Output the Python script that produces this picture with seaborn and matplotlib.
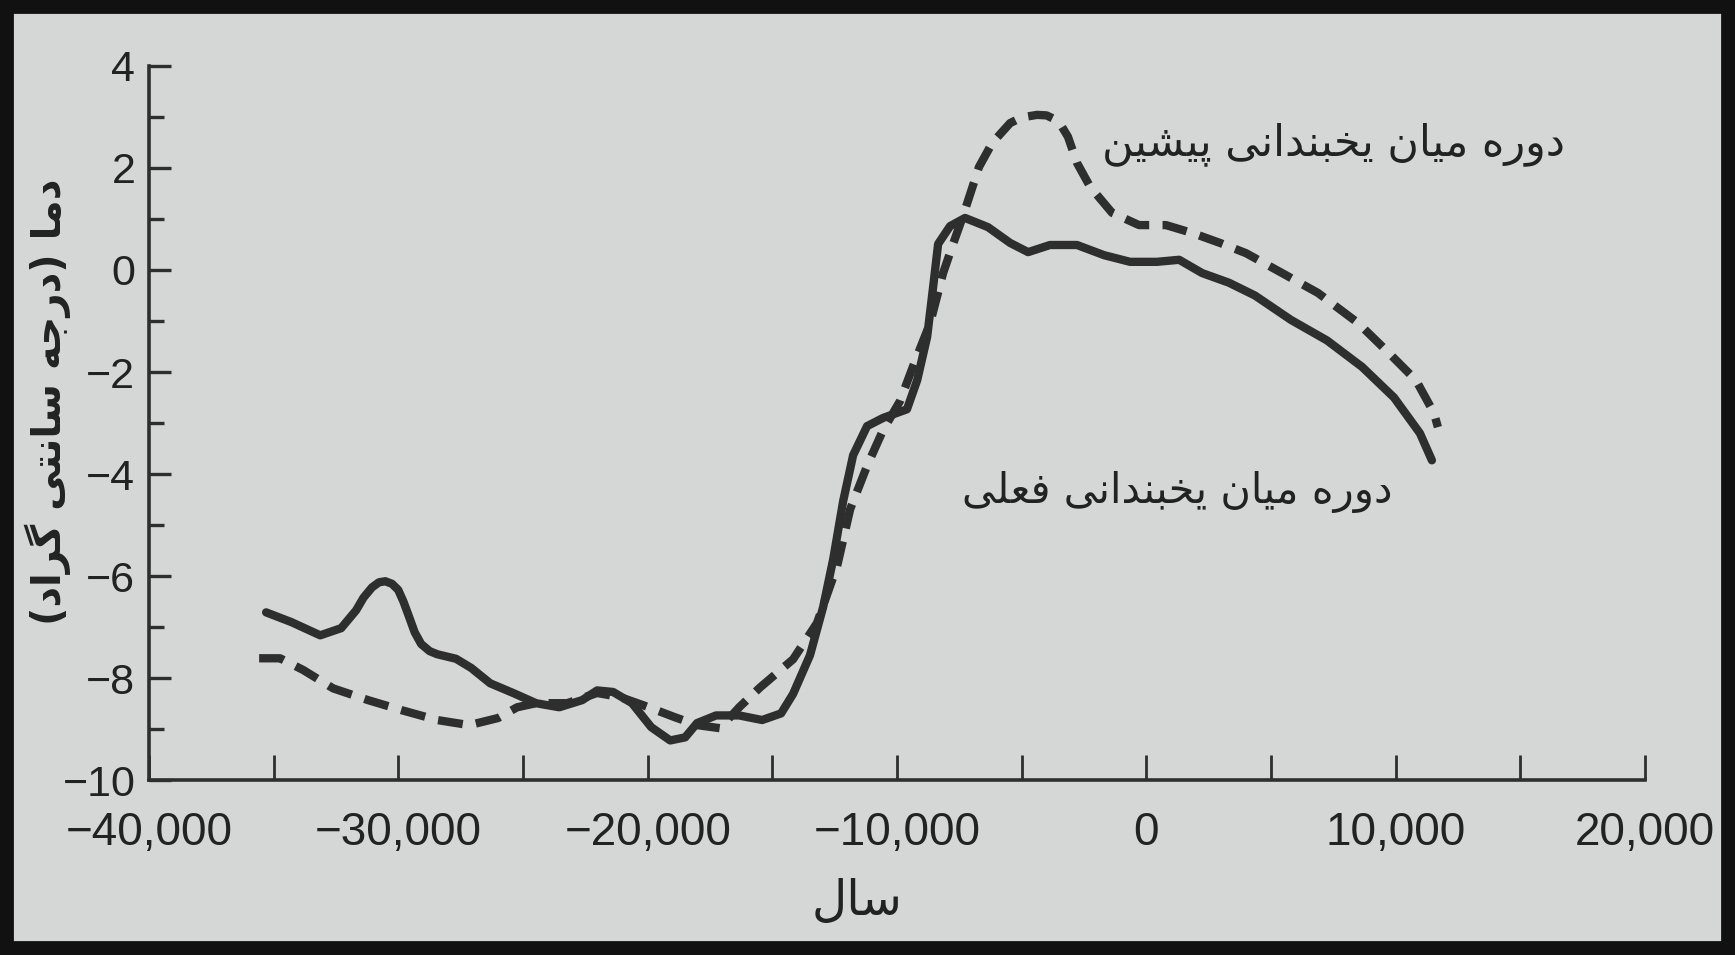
import numpy as np
import pandas as pd
import matplotlib
matplotlib.use("Agg")
import matplotlib.pyplot as plt
import seaborn as sns
from matplotlib.patches import Rectangle

# --- data ---
current_year = [-35310, -34300, -33140, -32300, -31700, -31400, -31060, -30780, -30530, -30260,
                -30010, -29800, -29610, -29350, -29090, -28750, -28450, -27690, -27080, -26320,
                -25400, -24480, -23550, -22630, -22030, -21390, -20630, -19860, -19100, -18500,
                -18020, -17260, -16330, -15410, -14650, -14170, -13490, -12960, -12560, -12160,
                -11760, -11200, -10560, -9600, -9190, -8790, -8550, -8350, -7870, -7270,
                -6350, -5460, -4740, -3860, -2780, -1690, -650, 430, 1320, 2240,
                3320, 4360, 5810, 7250, 8660, 9940, 10980, 11460]
current_temp = [-6.71, -6.90, -7.16, -7.02, -6.67, -6.42, -6.22, -6.12, -6.10, -6.15,
                -6.27, -6.50, -6.75, -7.10, -7.33, -7.47, -7.53, -7.62, -7.80, -8.10,
                -8.29, -8.49, -8.57, -8.43, -8.24, -8.27, -8.49, -8.96, -9.22, -9.16,
                -8.88, -8.73, -8.73, -8.82, -8.69, -8.31, -7.55, -6.60, -5.67, -4.53,
                -3.63, -3.06, -2.90, -2.73, -2.16, -1.31, -0.33, 0.51, 0.86, 1.02,
                0.84, 0.53, 0.35, 0.49, 0.49, 0.29, 0.16, 0.16, 0.20, -0.06,
                -0.25, -0.50, -0.98, -1.38, -1.90, -2.50, -3.20, -3.73]

previous_year = [-35590, -34750, -33820, -32620, -31220, -29850, -28450, -27160, -26000, -25240,
                 -24480, -23230, -22030, -21110, -20180, -18940, -18020, -17100, -16330, -15490,
                 -14170, -13210, -12400, -11880, -11200, -10560, -9880, -9350, -8670, -8150,
                 -7750, -7350, -6710, -6180, -5460, -5000, -4380, -4000, -3700, -3400,
                 -3140, -2780, -2250, -1370, -290, 790, 1880, 2960, 4000, 5450,
                 6890, 8500, 9740, 10820, 11540, 11700]
previous_temp = [-7.61, -7.61, -7.84, -8.20, -8.43, -8.63, -8.82, -8.92, -8.78, -8.57,
                 -8.49, -8.49, -8.29, -8.37, -8.53, -8.76, -8.92, -8.98, -8.57, -8.18,
                 -7.63, -6.92, -5.80, -4.69, -3.84, -3.14, -2.57, -1.88, -1.04, -0.06,
                 0.51, 1.06, 2.02, 2.49, 2.88, 2.99, 3.04, 3.03, 2.96, 2.82,
                 2.61, 2.10, 1.63, 1.12, 0.88, 0.88, 0.72, 0.53, 0.33, -0.06,
                 -0.45, -1.04, -1.63, -2.16, -2.80, -3.08]

x_ticks = [-40000, -30000, -20000, -10000, 0, 10000, 20000]
x_ticklabels = ["−40,000", "−30,000", "−20,000", "−10,000", "0", "10,000", "20,000"]
x_minor = [-35000, -25000, -15000, -5000, 5000, 15000]
y_ticks = [-10, -8, -6, -4, -2, 0, 2, 4]
y_ticklabels = ["−10", "−8", "−6", "−4", "−2", "0", "2", "4"]
y_minor = [-9, -7, -5, -3, -1, 1, 3]

x_title = "سال"
y_title = "دما (درجه سانتی گراد)"
label_previous = "دوره میان یخبندانی پیشین"
label_current = "دوره میان یخبندانی فعلی"

PAPER = "#d5d7d6"
INK = "#2e2e2e"

# matplotlib has no arabic shaping: pick presentation forms by hand and reverse
FORMS = {
    "ا": "\ufe8d\ufe8e", "د": "\ufea9\ufeaa", "ر": "\ufead\ufeae", "و": "\ufeed\ufeee",
    "ب": "\ufe8f\ufe90\ufe91\ufe92", "پ": "\ufb56\ufb57\ufb58\ufb59", "ت": "\ufe95\ufe96\ufe97\ufe98",
    "ج": "\ufe9d\ufe9e\ufe9f\ufea0", "خ": "\ufea5\ufea6\ufea7\ufea8", "س": "\ufeb1\ufeb2\ufeb3\ufeb4",
    "ش": "\ufeb5\ufeb6\ufeb7\ufeb8", "ع": "\ufec9\ufeca\ufecb\ufecc", "ف": "\ufed1\ufed2\ufed3\ufed4",
    "گ": "\ufb92\ufb93\ufb94\ufb95", "ل": "\ufedd\ufede\ufedf\ufee0", "م": "\ufee1\ufee2\ufee3\ufee4",
    "ن": "\ufee5\ufee6\ufee7\ufee8", "ه": "\ufee9\ufeea\ufeeb\ufeec", "ی": "\ufbfc\ufbfd\ufbfe\ufbff",
}


def shape_fa(text):
    out = []
    for i, ch in enumerate(text):
        if ch not in FORMS:
            out.append(ch)
            continue
        prev = text[i - 1] if i > 0 else ""
        nxt = text[i + 1] if i + 1 < len(text) else ""
        join_prev = prev in FORMS and len(FORMS[prev]) == 4
        join_next = len(FORMS[ch]) == 4 and nxt in FORMS
        f = FORMS[ch]
        if join_prev and join_next:
            out.append(f[3])
        elif join_prev:
            out.append(f[1])
        elif join_next:
            out.append(f[2])
        else:
            out.append(f[0])
    vis = "".join(reversed(out))
    return vis.translate(str.maketrans("()", ")("))


sns.set_theme(style="ticks")
plt.rcParams["font.family"] = ["Liberation Sans", "DejaVu Sans"]

df = pd.concat([
    pd.DataFrame({"year": current_year, "temp": current_temp, "period": "current"}),
    pd.DataFrame({"year": previous_year, "temp": previous_temp, "period": "previous"}),
])

fig = plt.figure(figsize=(17.35, 9.55), dpi=100, facecolor=PAPER)
ax = fig.add_axes([0.086, 0.183, 0.862, 0.748])
ax.set_facecolor(PAPER)

sns.lineplot(
    data=df, x="year", y="temp", style="period",
    style_order=["current", "previous"],
    dashes={"current": "", "previous": (3.0, 1.6)},
    color=INK, linewidth=6, estimator=None, legend=False, ax=ax,
)
for line in ax.get_lines():
    line.set_solid_joinstyle("round")
    line.set_dash_joinstyle("round")

ax.set_xlim(-40000, 20000)
ax.set_ylim(-10, 4)
sns.despine(ax=ax)
for side in ["left", "bottom"]:
    ax.spines[side].set_linewidth(2.6)
    ax.spines[side].set_color(INK)

ax.set_xticks(x_ticks)
ax.set_xticklabels(x_ticklabels)
ax.set_xticks(x_minor, minor=True)
ax.set_yticks(y_ticks)
ax.set_yticklabels(y_ticklabels)
ax.set_yticks(y_minor, minor=True)
ax.tick_params(axis="x", which="both", direction="in", length=18, width=2, color=INK,
               labelsize=33, pad=22, labelcolor="#222222")
ax.tick_params(axis="y", which="major", direction="in", length=16, width=2.4, color=INK,
               labelsize=31, pad=10, labelcolor="#222222")
ax.tick_params(axis="y", which="minor", direction="in", length=11, width=2.4, color=INK)

ax.set_xlabel(shape_fa(x_title), fontsize=35, color="#222222", family="DejaVu Sans", va="top")
ax.xaxis.set_label_coords(0.473, -0.135)
ax.set_ylabel(shape_fa(y_title), fontsize=29, color="#222222", family="DejaVu Sans",
              va="center", fontweight="bold")
ax.yaxis.set_label_coords(-0.068, 0.53)

ax.text(16800, 2.47, shape_fa(label_previous), ha="right", va="center",
        fontsize=31, color="#222222", family="DejaVu Sans")
ax.text(9860, -4.35, shape_fa(label_current), ha="right", va="center",
        fontsize=30, color="#222222", family="DejaVu Sans")

# dark edge of the scanned page
fig.add_artist(Rectangle((0, 0), 1, 1, transform=fig.transFigure, fill=False,
                         edgecolor="#111111", linewidth=20))

fig.savefig("out.png", dpi=100, facecolor=PAPER)
